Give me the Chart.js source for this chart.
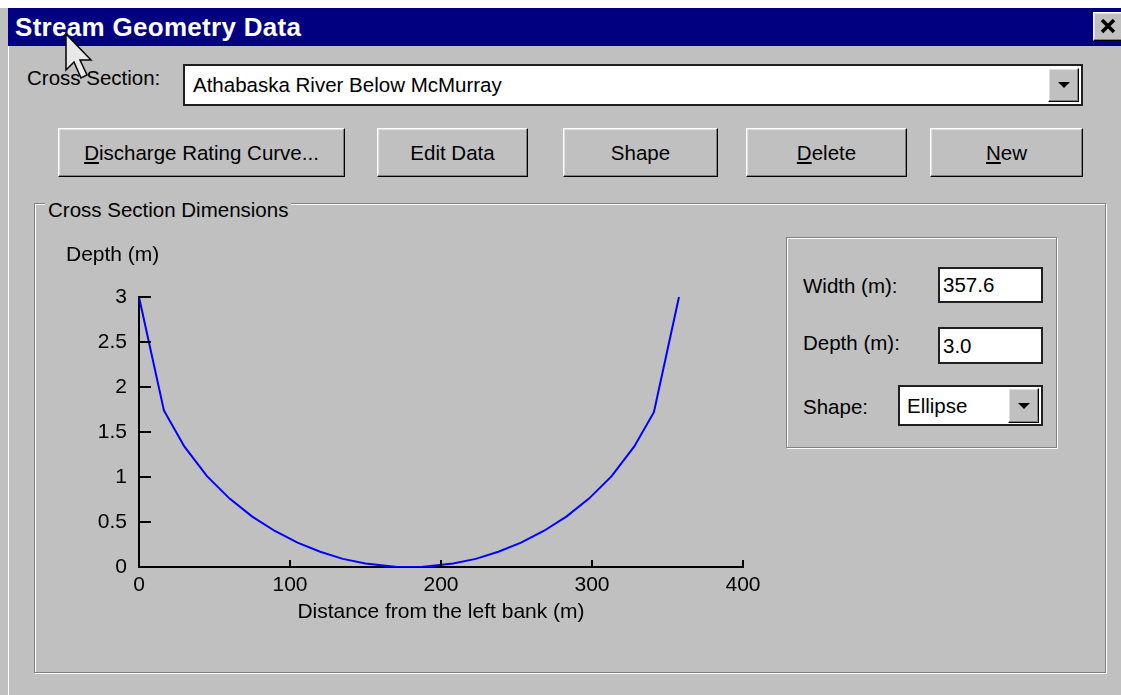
<!DOCTYPE html>
<html>
<head>
<meta charset="utf-8">
<script src="https://cdn.jsdelivr.net/npm/chart.js@4.4.1/dist/chart.umd.min.js"></script>
<style>
  html, body { margin: 0; padding: 0; }
  body {
    width: 1121px; height: 695px; overflow: hidden; position: relative;
    background: #c0c0c0; font-family: "Liberation Sans", Arial, sans-serif;
    font-size: 20.5px; color: #000;
  }
  .abs { position: absolute; }
  .topwhite { left: 0; top: 0; width: 1121px; height: 8px; background: #fff; }
  .leftline { left: 8px; top: 46px; width: 1px; height: 649px; background: #fff; }
  .titlebar { left: 8px; top: 8px; width: 1113px; height: 38px; background: #000080; }
  .titletext { left: 15px; top: 14px; line-height: 26px; font-size: 26px; font-weight: bold; color: #fff; letter-spacing: 0.3px; }
  .raised {
    background: #c0c0c0; box-sizing: border-box;
    border: 1px solid; border-color: #fff #000 #000 #fff;
    box-shadow: inset -1px -1px 0 #808080, inset 1px 1px 0 #dfdfdf;
  }
  .sunken {
    background: #fff; box-sizing: border-box;
    border: 2px solid #000; border-color: #202020 #202020 #202020 #202020;
  }
  .etched {
    box-sizing: border-box; border: 1px solid #808080;
    box-shadow: 1px 1px 0 #fff, inset 1px 1px 0 #fff;
  }
  .lbl { line-height: 24px; white-space: nowrap; }
  .btn { text-align: center; line-height: 47px; white-space: nowrap; }
  .arrow { width: 0; height: 0; border-left: 6px solid transparent; border-right: 6px solid transparent; border-top: 6px solid #000; position: absolute; left: 50%; top: 50%; margin-left: -6px; margin-top: -3px; }
  u { text-decoration: underline; text-underline-offset: 2px; }
</style>
</head>
<body>
<div class="abs topwhite"></div>
<div class="abs leftline"></div>
<div class="abs titlebar"></div>
<div class="abs titletext">Stream Geometry Data</div>
<div class="abs raised" style="left:1093px; top:12px; width:34px; height:29px;">
  <svg width="30" height="27" style="position:absolute;left:0;top:0">
    <path d="M8 7 L20 19 M20 7 L8 19" stroke="#000" stroke-width="3.5"/>
  </svg>
</div>

<div class="abs lbl" style="left:27px; top:66px;">Cross Section:</div>
<div class="abs sunken" style="left:183px; top:64px; width:900px; height:42px; line-height:38px; padding-left:8px;">Athabaska River Below McMurray</div>
<div class="abs raised" style="left:1048px; top:68px; width:31px; height:34px;"><div class="arrow"></div></div>

<div class="abs raised btn" style="left:58px; top:128px; width:287px; height:49px;"><u>D</u>ischarge Rating Curve...</div>
<div class="abs raised btn" style="left:377px; top:128px; width:151px; height:49px;">Edit Data</div>
<div class="abs raised btn" style="left:563px; top:128px; width:155px; height:49px;">Shape</div>
<div class="abs raised btn" style="left:746px; top:128px; width:161px; height:49px;"><u>D</u>elete</div>
<div class="abs raised btn" style="left:930px; top:128px; width:153px; height:49px;"><u>N</u>ew</div>

<div class="abs etched" style="left:34px; top:203px; width:1072px; height:470px;"></div>
<div class="abs lbl" style="left:45px; top:198px; background:#c0c0c0; padding:0 3px;">Cross Section Dimensions</div>

<div class="abs etched" style="left:786px; top:237px; width:271px; height:211px;"></div>
<div class="abs lbl" style="left:803px; top:274px;">Width (m):</div>
<div class="abs sunken" style="left:938px; top:267px; width:105px; height:36px; line-height:32px; padding-left:3px;">357.6</div>
<div class="abs lbl" style="left:803px; top:331px;">Depth (m):</div>
<div class="abs sunken" style="left:938px; top:327px; width:105px; height:37px; line-height:33px; padding-left:3px;">3.0</div>
<div class="abs lbl" style="left:803px; top:395px;">Shape:</div>
<div class="abs sunken" style="left:898px; top:385px; width:145px; height:41px; line-height:37px; padding-left:7px;">Ellipse</div>
<div class="abs raised" style="left:1008px; top:388px; width:31px; height:35px;"><div class="arrow"></div></div>

<canvas id="xsChart" class="abs" width="745" height="395" style="left:39px; top:235px;"></canvas>

<svg class="abs" style="left:64px; top:32px;" width="30" height="50">
  <path d="M2 2 L2 38 L10 30 L17 46 L23 43 L16 28 L27 28 Z" fill="#e8e8e8" stroke="#000" stroke-width="1.5"/>
</svg>

<script>
//cross section points: distance from left bank (m) and depth (m)
const distance = [0, 16.5, 30, 45, 60, 75, 90, 105, 120, 135, 150, 165, 171, 179, 187, 193, 208, 223, 238, 253, 268, 283, 298, 313, 328, 341, 357.6];
const depth = [3.0, 1.74, 1.34, 1.01, 0.76, 0.56, 0.40, 0.27, 0.17, 0.09, 0.04, 0.01, 0, 0, 0, 0.01, 0.04, 0.09, 0.17, 0.27, 0.40, 0.56, 0.76, 1.01, 1.34, 1.72, 3.0];

//axis settings
const xTicks = [0, 100, 200, 300, 400];
const yTicks = [0, 0.5, 1, 1.5, 2, 2.5, 3];
const xTitle = 'Distance from the left bank (m)';
const yTitle = 'Depth (m)';

const chartFont = '"Liberation Sans", Arial, sans-serif';

//ticks on this old control point inwards, so they are drawn here from the scales
const innerTicks = {
    id: 'innerTicks',
    afterDatasetsDraw(chart) {
        const ctx = chart.ctx;
        const x = chart.scales.x;
        const y = chart.scales.y;
        ctx.save();
        ctx.strokeStyle = '#000';
        ctx.lineWidth = 2;
        ctx.beginPath();
        y.ticks.forEach(t => {
            const py = Math.round(y.getPixelForValue(t.value));
            ctx.moveTo(x.left, py);
            ctx.lineTo(x.left + 12, py);
        });
        x.ticks.forEach(t => {
            const px = Math.round(x.getPixelForValue(t.value));
            ctx.moveTo(px, y.bottom);
            ctx.lineTo(px, y.bottom - 7);
        });
        ctx.stroke();
        //horizontal y axis title above the axis
        ctx.font = '21px ' + chartFont;
        ctx.fillStyle = '#000';
        ctx.textAlign = 'left';
        ctx.textBaseline = 'middle';
        ctx.fillText(yTitle, chart.chartArea.left - 73, chart.chartArea.top - 42);
        ctx.restore();
    }
};

const points = distance.map((d, i) => ({x: d, y: depth[i]}));

new Chart(document.getElementById('xsChart').getContext('2d'), {
    type: 'line',
    data: {
        datasets: [{
            data: points,
            borderColor: '#0000ff',
            borderWidth: 2,
            pointRadius: 0,
            tension: 0,
            fill: false
        }]
    },
    options: {
        responsive: false,
        animation: false,
        devicePixelRatio: 1,
        layout: { padding: { top: 62, right: 41, left: 0, bottom: 0 } },
        plugins: { legend: { display: false }, tooltip: { enabled: false }, title: { display: false } },
        scales: {
            x: {
                type: 'linear',
                min: xTicks[0],
                max: xTicks[xTicks.length - 1],
                afterBuildTicks: s => { s.ticks = xTicks.map(v => ({value: v})); },
                afterFit: s => { s.height = 63; },
                grid: { drawOnChartArea: false, drawTicks: false },
                border: { display: true, color: '#000', width: 2 },
                ticks: { color: '#000', padding: 6, maxRotation: 0, font: { family: chartFont, size: 21 }, callback: v => String(v) },
                title: { display: true, text: xTitle, color: '#000', padding: { top: 0, bottom: 5 }, font: { family: chartFont, size: 21 } }
            },
            y: {
                type: 'linear',
                min: yTicks[0],
                max: yTicks[yTicks.length - 1],
                afterBuildTicks: s => { s.ticks = yTicks.map(v => ({value: v})); },
                afterFit: s => { s.width = 100; },
                grid: { drawOnChartArea: false, drawTicks: false },
                border: { display: true, color: '#000', width: 2 },
                ticks: { color: '#000', padding: 12, font: { family: chartFont, size: 21 }, callback: v => String(v) }
            }
        }
    },
    plugins: [innerTicks]
});
</script>
</body>
</html>
